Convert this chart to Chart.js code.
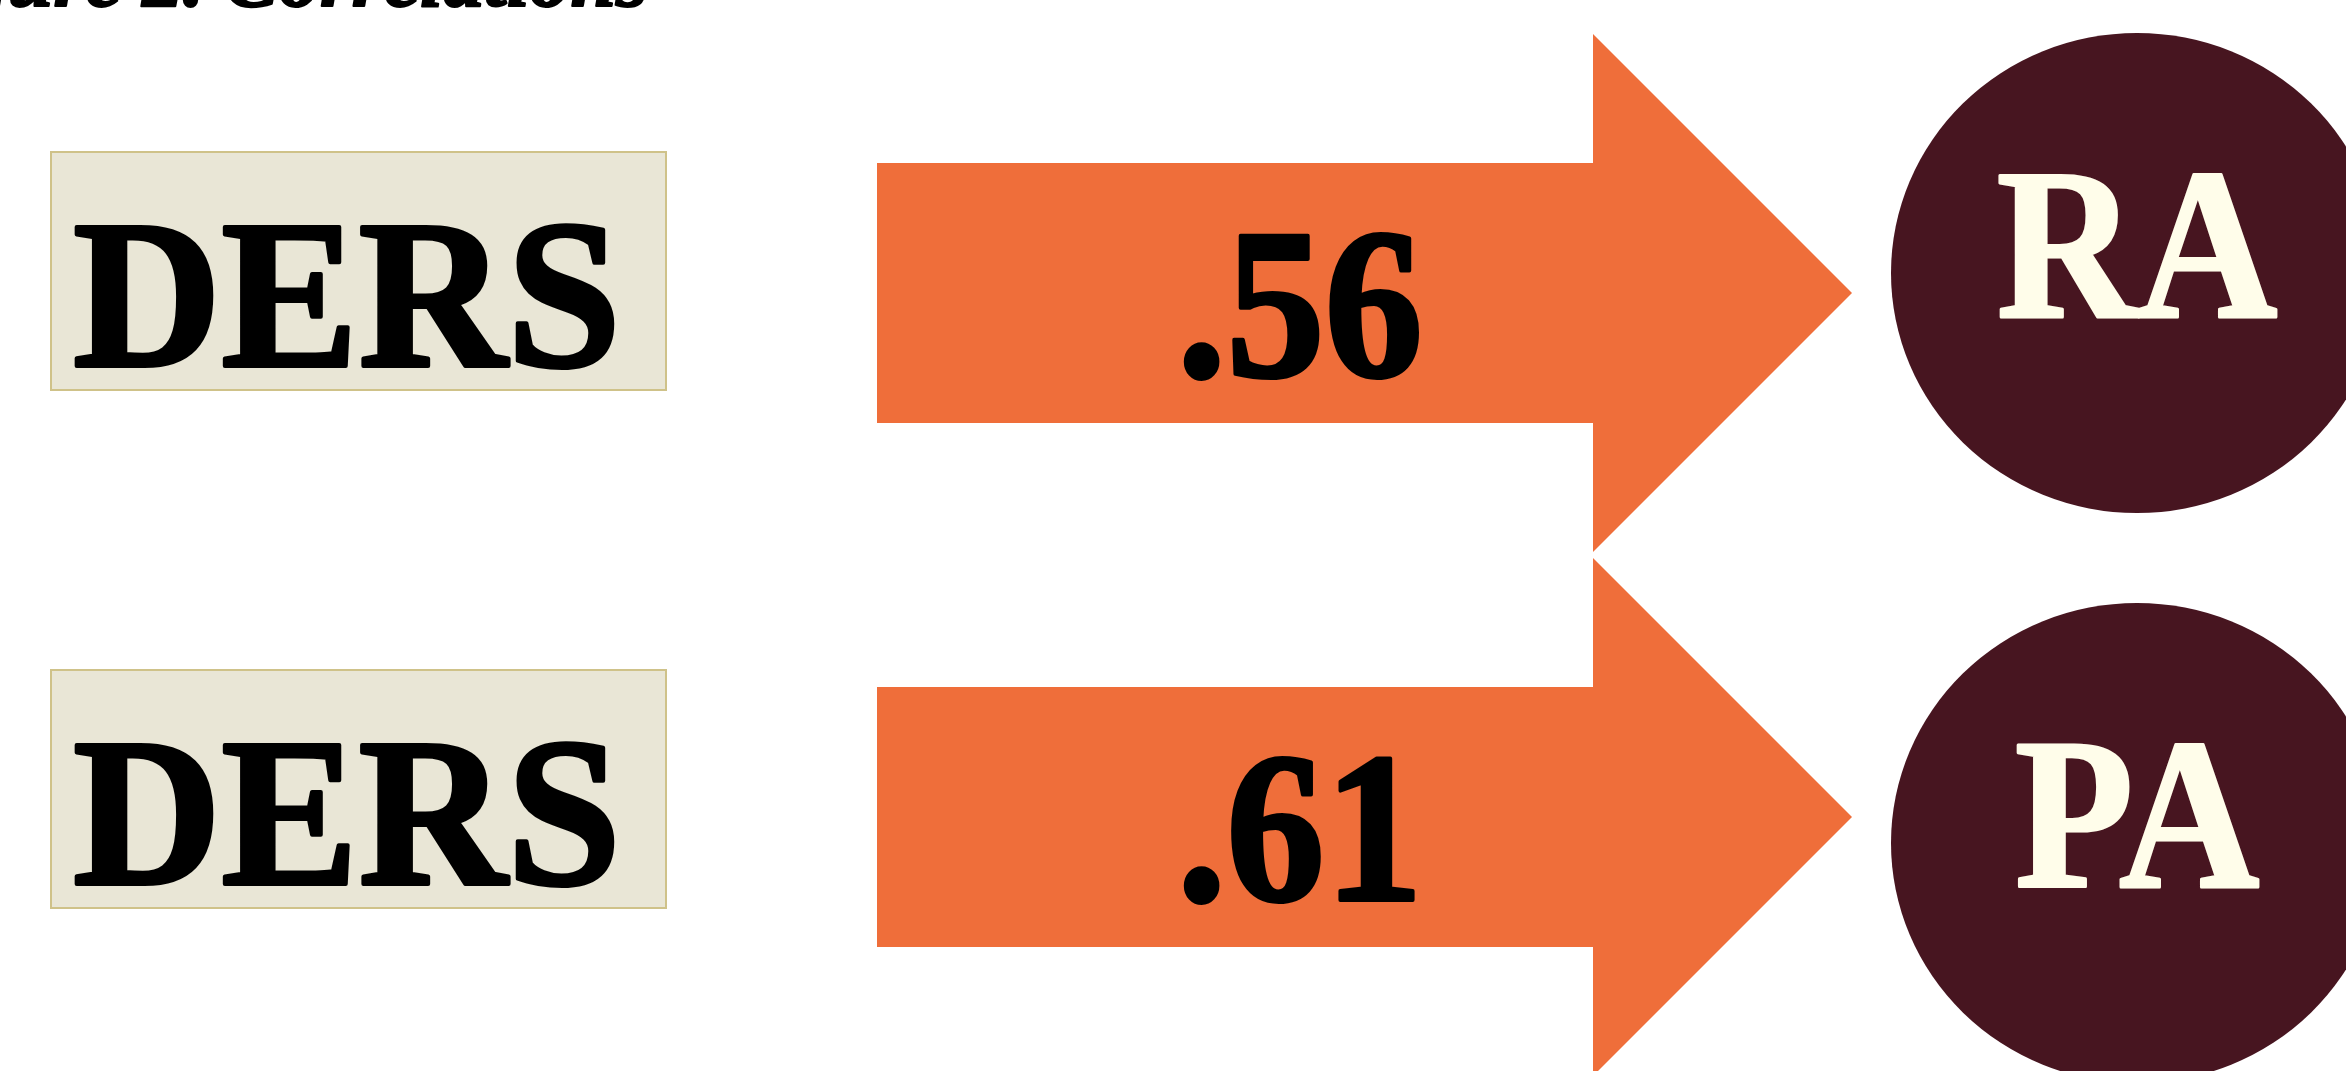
<!DOCTYPE html>
<html>
<head>
<meta charset="utf-8">
<script src="https://cdn.jsdelivr.net/npm/chart.js@4.4.1/dist/chart.umd.min.js"></script>
<style>
  html, body { margin: 0; padding: 0; background: #ffffff; overflow: hidden; }
  #wrap { position: relative; width: 2346px; height: 1071px; }
</style>
</head>
<body>
<div id="wrap"><canvas id="diagram"></canvas></div>
<script>
// data
const predictors = ['DERS', 'DERS'];
const outcomes = ['RA', 'PA'];
const correlations = [0.56, 0.61];
const figureTitle = 'Figure 2. Correlations';

// layout (scale units; x axis runs 0..2346, rows are 0 and 1)
const W = 2346, H = 1071;
const boxCol = { left: 51, right: 666, halfH: 119, textX: 347, textW: 548 };
const arrowCol = { left: 877, headBase: 1593, tip: 1852, bodyHalf: 130, headHalf: 259, textX: 1300 };
const outCol = { cx: 2137, rx: 246, ry: 240 };

// each column sits on its own hidden row axis: [row0 centre px, row1 centre px]
function rowAxis(first, second) {
    const unit = second - first;
    const min = -first / unit;
    return { type: 'linear', display: false, reverse: true, min: min, max: min + H / unit };
}

const colors = {
    boxFill: '#e9e6d6',
    boxEdge: '#cfc289',
    arrow: '#ef6e3a',
    circle: '#471520',
    circleText: '#fffdea',
    text: '#000000'
};

const serif = '"Liberation Serif", "Times New Roman", Times, serif';
const fmtR = (r) => r.toFixed(2).replace(/^0/, '');

// heavy serif text: fill plus a same-colour stroke to thicken the stems
// sx > 0 is a fixed horizontal scale, sx < 0 means "fit to this many px wide"
function drawText(ctx, text, cx, baseline, font, color, sx, weight, align = 'center') {
    ctx.save();
    ctx.font = font;
    if (sx < 0) sx = -sx / ctx.measureText(text).width;
    ctx.translate(cx, baseline);
    ctx.scale(sx, 1);
    ctx.fillStyle = color;
    ctx.strokeStyle = color;
    ctx.lineJoin = 'round';
    ctx.textAlign = align;
    ctx.textBaseline = 'alphabetic';
    ctx.fillText(text, 0, 0);
    if (weight > 0) {
        ctx.lineWidth = weight;
        ctx.strokeText(text, 0, 0);
    }
    ctx.restore();
}

const diagramPlugin = {
    id: 'diagram',
    afterDatasetsDraw(chart) {
        const { ctx, scales } = chart;
        const x = scales.x;
        const px = (v) => x.getPixelForValue(v);

        // title, cut off by the top edge
        drawText(ctx, figureTitle, px(648), 6, 'italic bold 82px ' + serif, colors.text, 1, 2, 'right');

        predictors.forEach((name, i) => {
            // predictor box
            const by = scales.yBox.getPixelForValue(i);
            const left = px(boxCol.left), right = px(boxCol.right);
            ctx.save();
            ctx.fillStyle = colors.boxFill;
            ctx.strokeStyle = colors.boxEdge;
            ctx.lineWidth = 2;
            ctx.fillRect(left, by - boxCol.halfH, right - left, boxCol.halfH * 2);
            ctx.strokeRect(left, by - boxCol.halfH, right - left, boxCol.halfH * 2);
            ctx.restore();
            drawText(ctx, name, px(boxCol.textX), by + 95, 'bold 211px ' + serif, colors.text,
                -(px(boxCol.left + boxCol.textW) - px(boxCol.left)), 4);
        });

        correlations.forEach((r, i) => {
            const ay = scales.yArrow.getPixelForValue(i);
            ctx.save();
            ctx.fillStyle = colors.arrow;
            ctx.beginPath();
            ctx.moveTo(px(arrowCol.left), ay - arrowCol.bodyHalf);
            ctx.lineTo(px(arrowCol.headBase), ay - arrowCol.bodyHalf);
            ctx.lineTo(px(arrowCol.headBase), ay - arrowCol.headHalf);
            ctx.lineTo(px(arrowCol.tip), ay);
            ctx.lineTo(px(arrowCol.headBase), ay + arrowCol.headHalf);
            ctx.lineTo(px(arrowCol.headBase), ay + arrowCol.bodyHalf);
            ctx.lineTo(px(arrowCol.left), ay + arrowCol.bodyHalf);
            ctx.closePath();
            ctx.fill();
            ctx.restore();
            drawText(ctx, fmtR(r), px(arrowCol.textX), ay + 83, 'bold 214px ' + serif, colors.text, 0.92, 4);
        });

        outcomes.forEach((name, i) => {
            const oy = scales.yOut.getPixelForValue(i);
            ctx.save();
            ctx.fillStyle = colors.circle;
            ctx.beginPath();
            ctx.ellipse(px(outCol.cx), oy, outCol.rx, outCol.ry, 0, 0, Math.PI * 2);
            ctx.fill();
            ctx.restore();
            drawText(ctx, name, px(outCol.cx), oy + 44, 'bold 216px ' + serif, colors.circleText, 0.9, 3);
        });
    }
};

const ctx = document.getElementById('diagram').getContext('2d');
const diagramChart = new Chart(ctx, {
    type: 'scatter',
    data: {
        datasets: [{
            label: 'r',
            data: correlations.map((r, i) => ({ x: (arrowCol.left + arrowCol.tip) / 2, y: i })),
            yAxisID: 'yArrow',
            pointRadius: 0,
            pointHoverRadius: 0
        }]
    },
    options: {
        responsive: true,
        maintainAspectRatio: false,
        animation: false,
        events: [],
        layout: { padding: 0 },
        scales: {
            x: { type: 'linear', display: false, min: 0, max: W },
            yBox: rowAxis(271, 789),
            yArrow: rowAxis(293, 817),
            yOut: rowAxis(273, 843)
        },
        plugins: {
            legend: { display: false },
            tooltip: { enabled: false },
            title: { display: false }
        }
    },
    plugins: [diagramPlugin]
});
</script>
</body>
</html>
